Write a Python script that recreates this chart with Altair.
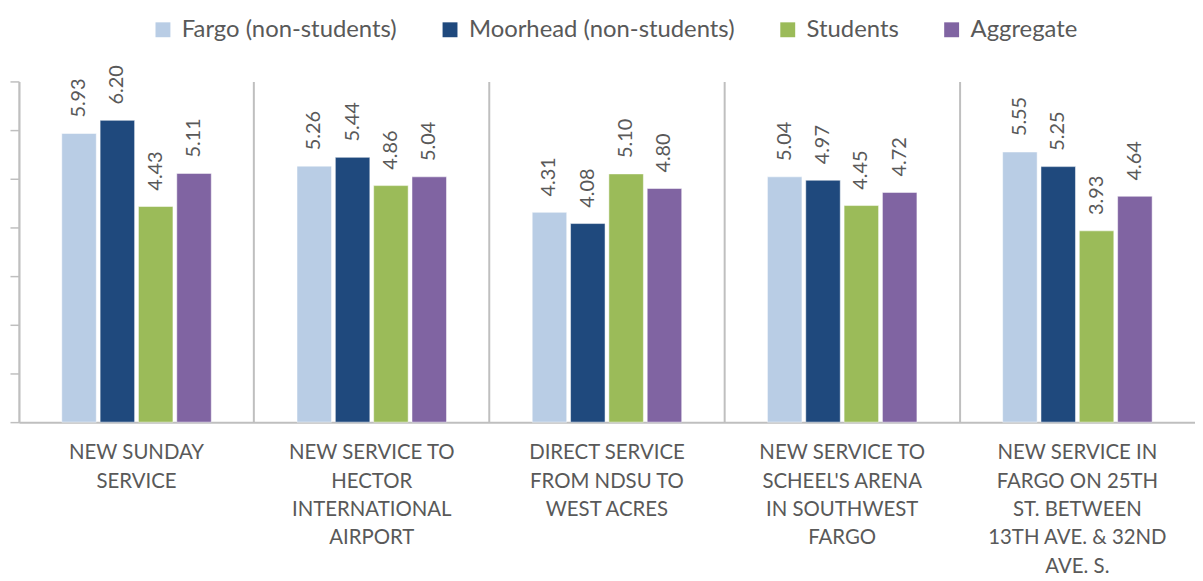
import altair as alt
import pandas as pd

categories = [
    "NEW SUNDAY\nSERVICE",
    "NEW SERVICE TO\nHECTOR\nINTERNATIONAL\nAIRPORT",
    "DIRECT SERVICE\nFROM NDSU TO\nWEST ACRES",
    "NEW SERVICE TO\nSCHEEL'S ARENA\nIN SOUTHWEST\nFARGO",
    "NEW SERVICE IN\nFARGO ON 25TH\nST. BETWEEN\n13TH AVE. & 32ND\nAVE. S.",
]
series = ["Fargo (non-students)", "Moorhead (non-students)", "Students", "Aggregate"]
fargo = [5.93, 5.26, 4.31, 5.04, 5.55]
moorhead = [6.20, 5.44, 4.08, 4.97, 5.25]
students = [4.43, 4.86, 5.10, 4.45, 3.93]
aggregate = [5.11, 5.04, 4.80, 4.72, 4.64]
colors = ["#B9CDE5", "#1F497D", "#9BBB59", "#8064A2"]
y_ticks = [0, 1, 2, 3, 4, 5, 6, 7]

rows = []
for s, vals in zip(series, [fargo, moorhead, students, aggregate]):
    for c, v in zip(categories, vals):
        rows.append({"category": c, "series": s, "value": v})
df = pd.DataFrame(rows)

FONT = "Lato"
GRAY = "#595959"
LINE = "#BFBFBF"
W = 1184
band = W / len(categories)
group = 150.5

x = alt.X(
    "category:N",
    sort=categories,
    scale=alt.Scale(paddingInner=0, paddingOuter=0),
    axis=alt.Axis(
        title=None,
        labelExpr="split(datum.label, '\\n')",
        labelAngle=0,
        labelFont=FONT,
        labelFontSize=20.5,
        labelColor=GRAY,
        labelLineHeight=28.5,
        labelPadding=21,
        labelLimit=0,
        ticks=False,
        grid=True,
        gridColor=LINE,
        gridWidth=2,
        bandPosition=0,
        domainColor=LINE,
        domainWidth=2,
    ),
)
off_scale = alt.Scale(
    paddingInner=0.1, paddingOuter=0,
    range=[(band - group) / 2, (band + group) / 2],
)
xo = alt.XOffset("series:N", sort=series, scale=off_scale)
y = alt.Y(
    "value:Q",
    scale=alt.Scale(domain=[0, 7], nice=False),
    axis=alt.Axis(
        title=None,
        labels=False,
        values=y_ticks,
        tickSize=9,
        tickColor=LINE,
        tickWidth=1.5,
        domainColor=LINE,
        domainWidth=1.5,
        grid=False,
    ),
)

bars = alt.Chart(df).mark_bar(stroke="white", strokeWidth=0.5).encode(
    x=x,
    xOffset=xo,
    y=y,
    color=alt.Color(
        "series:N",
        sort=series,
        scale=alt.Scale(domain=series, range=colors),
        legend=alt.Legend(
            title=None,
            orient="none",
            direction="horizontal",
            legendX=133,
            legendY=-64,
            symbolType="square",
            symbolSize=225,
            symbolStrokeWidth=0,
            labelFont=FONT,
            labelFontSize=24,
            labelColor=GRAY,
            labelOffset=7,
            labelLimit=0,
            columnPadding=41,
        ),
    ),
)

labels = alt.Chart(df).mark_text(
    angle=270, align="left", baseline="middle", dx=16,
    font=FONT, fontSize=20, color=GRAY,
).encode(
    x=alt.X("category:N", sort=categories),
    xOffset=alt.XOffset("series:N", sort=series),
    y=alt.Y("value:Q"),
    text=alt.Text("value:Q", format=".2f"),
)

chart = (
    alt.layer(bars, labels)
    .properties(
        width=W,
        height=343,
        autosize=alt.AutoSizeParams(type="none"),
        padding={"left": 11, "top": 72, "right": 0, "bottom": 158},
    )
    .configure_view(strokeWidth=0)
)

chart.save("out.html", embed_options={"renderer": "svg", "actions": False})
